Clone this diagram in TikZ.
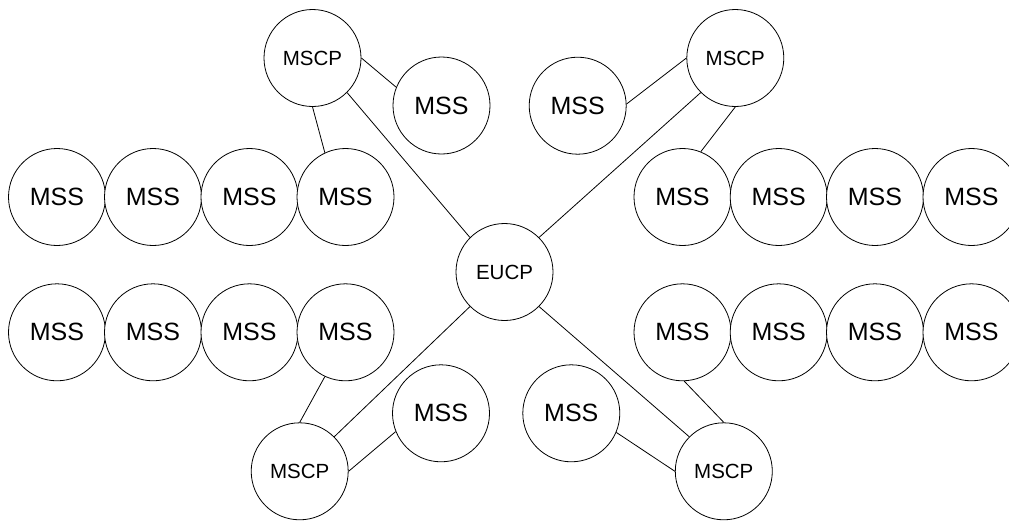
\documentclass[tikz,border=0pt]{standalone}
\usepackage{fontspec}
\setmainfont{Liberation Sans}
\begin{document}
\begin{tikzpicture}[x=1pt,y=-1pt,
  ball/.style={circle,draw=black,line width=0.8pt,minimum size=97pt,inner sep=0pt,fill=white},
  mss/.style={ball,font=\fontsize{25}{30}\selectfont},
  ctl/.style={ball,font=\fontsize{20.5}{24}\selectfont},
  link/.style={draw=black,line width=0.8pt}]
\useasboundingbox (0,0) rectangle (1009,520);
% top-left group
\node[ctl] (tlc) at (312.5,58) {MSCP};
\node[mss] (tlm) at (441.5,105.5) {MSS};
\node[mss] (tl1) at (57,197) {MSS};
\node[mss] (tl2) at (153,197) {MSS};
\node[mss] (tl3) at (249.5,197) {MSS};
\node[mss] (tl4) at (345.5,197) {MSS};
% top-right group
\node[ctl] (trc) at (735.3,58) {MSCP};
\node[mss] (trm) at (577.7,105.7) {MSS};
\node[mss] (tr1) at (682.5,197) {MSS};
\node[mss] (tr2) at (778.7,197) {MSS};
\node[mss] (tr3) at (875,197) {MSS};
\node[mss] (tr4) at (971.5,197) {MSS};
% center
\node[ctl] (eu) at (504.5,272) {EUCP};
% bottom-left group
\node[mss] (bl1) at (57,332.3) {MSS};
\node[mss] (bl2) at (153,332.3) {MSS};
\node[mss] (bl3) at (249.5,332.3) {MSS};
\node[mss] (bl4) at (345.5,332.3) {MSS};
\node[ctl] (blc) at (299.7,471.3) {MSCP};
\node[mss] (blm) at (441,413.3) {MSS};
% bottom-right group
\node[mss] (br1) at (682.5,332.3) {MSS};
\node[mss] (br2) at (778.7,332.3) {MSS};
\node[mss] (br3) at (875,332.3) {MSS};
\node[mss] (br4) at (971.5,332.3) {MSS};
\node[ctl] (brc) at (723.8,471.3) {MSCP};
\node[mss] (brm) at (571.3,413.3) {MSS};
% connectors
\draw[link] (tlc.east) -- (tlm.158);
\draw[link] (tlc.south) -- (tl4.115);
\draw[link] (tlc.-45) -- (eu.135);
\draw[link] (trc.west) -- (trm.2);
\draw[link] (trc.-135) -- (eu.45);
\draw[link] (trc.south) -- (tr1.68);
\draw[link] (blc.45) -- (eu.-135);
\draw[link] (blc.north) -- (bl4.-115);
\draw[link] (blc.east) -- (blm.-158);
\draw[link] (eu.-45) -- (brc.135);
\draw[link] (brm.-23) -- (brc.west);
\draw[link] (br1.-88) -- (brc.north);
\end{tikzpicture}
\end{document}
